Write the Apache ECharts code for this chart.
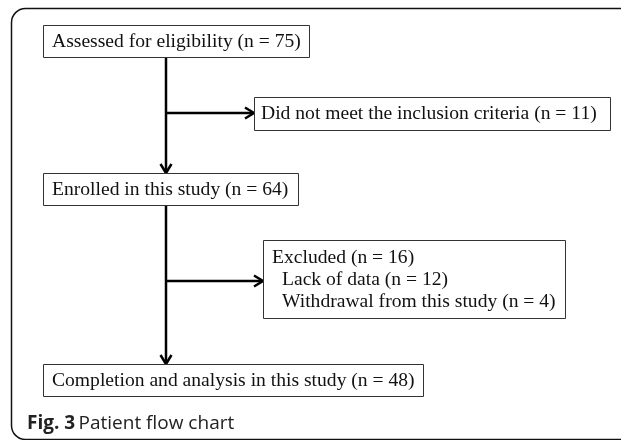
<!DOCTYPE html>
<html>
<head>
<meta charset="utf-8">
<script src="https://cdn.jsdelivr.net/npm/echarts@6/dist/echarts.min.js"></script>
<style>
  html, body { margin: 0; padding: 0; background: #fff; }
  #main { width: 621px; height: 440px; }
</style>
</head>
<body>
<div id="main"></div>
<script>
// 流程图文字
const mainSteps = [
    'Assessed for eligibility (n = 75)',
    'Enrolled in this study (n = 64)',
    'Completion and analysis in this study (n = 48)'
];
const sideSteps = [
    ['Did not meet the inclusion criteria (n = 11)'],
    ['Excluded (n = 16)', ' Lack of data (n = 12)', ' Withdrawal from this study (n = 4)']
];
const captionBold = 'Fig. 3';
const captionText = 'Patient flow chart';

// 布局 (像素)
const mainBoxes = [
    [43, 25, 266, 32],
    [43, 173, 255, 32],
    [43, 364, 380, 32]
];
const sideBoxes = [
    [254, 97, 356, 33],
    [263, 240, 302, 78]
];
const trunkX = 166;

let myChart = echarts.init(document.getElementById('main'), null, { renderer: 'canvas' });

const serif = '"Liberation Serif", "Times New Roman", serif';
const lineStyle = { stroke: '#000', lineWidth: 2.5 };
const boxStyle = { fill: '#fff', stroke: '#333', lineWidth: 1 };

function box(b, lines, padX, lineH) {
    let els = [{
        type: 'rect',
        shape: { x: b[0] + 0.5, y: b[1] + 0.5, width: b[2], height: b[3] },
        style: boxStyle
    }];
    let top = b[1] + b[3] / 2 - (lines.length - 1) * lineH / 2;
    for (let i = 0; i < lines.length; i++) {
        let indent = lines[i].startsWith(' ') ? 10 : 0;
        els.push({
            type: 'text',
            x: b[0] + padX + indent,
            y: top + i * lineH + 0.5,
            style: {
                text: lines[i].trim(),
                font: '19.6px ' + serif,
                fill: '#111',
                verticalAlign: 'middle'
            }
        });
    }
    return els;
}

// 箭头
function arrow(x1, y1, x2, y2) {
    let dx = x2 - x1, dy = y2 - y1;
    let len = Math.sqrt(dx * dx + dy * dy);
    let ux = dx / len, uy = dy / len;
    let hl = 9, hw = 5.5;
    return [{
        type: 'line',
        shape: { x1: x1, y1: y1, x2: x2 - ux * 1.5, y2: y2 - uy * 1.5 },
        style: lineStyle
    }, {
        type: 'polyline',
        shape: {
            points: [
                [x2 - ux * hl - uy * hw, y2 - uy * hl + ux * hw],
                [x2, y2],
                [x2 - ux * hl + uy * hw, y2 - uy * hl - ux * hw]
            ]
        },
        style: { stroke: '#000', lineWidth: 2.5, fill: null, lineJoin: 'miter' }
    }];
}

let elements = [];

// 外框
elements.push({
    type: 'rect',
    shape: { x: 11.5, y: 8.5, width: 720, height: 431, r: 14 },
    style: { fill: null, stroke: '#111', lineWidth: 1.5 }
});

// 主干线
elements = elements.concat(
    arrow(trunkX, mainBoxes[0][1] + mainBoxes[0][3], trunkX, mainBoxes[1][1]),
    arrow(trunkX, mainBoxes[1][1] + mainBoxes[1][3], trunkX, mainBoxes[2][1])
);
// 分支
elements = elements.concat(
    arrow(trunkX, 113, sideBoxes[0][0], 113),
    arrow(trunkX, 281, sideBoxes[1][0], 281)
);

for (let i = 0; i < mainSteps.length; i++) {
    elements = elements.concat(box(mainBoxes[i], [mainSteps[i]], 9, 22));
}
elements = elements.concat(box(sideBoxes[0], sideSteps[0], 7, 22));
elements = elements.concat(box(sideBoxes[1], sideSteps[1], 9, 22));

// 图注
elements.push({
    type: 'text',
    x: 27,
    y: 424,
    style: {
        text: '{b|' + captionBold + '} {r|' + captionText + '}',
        verticalAlign: 'middle',
        rich: {
            b: { font: 'bold 19px "Open Sans", sans-serif', fill: '#222' },
            r: { font: '19px "Open Sans", sans-serif', fill: '#222' }
        }
    }
});

let option = {
    animation: false,
    graphic: { elements: elements }
};
myChart.setOption(option);
</script>
</body>
</html>
